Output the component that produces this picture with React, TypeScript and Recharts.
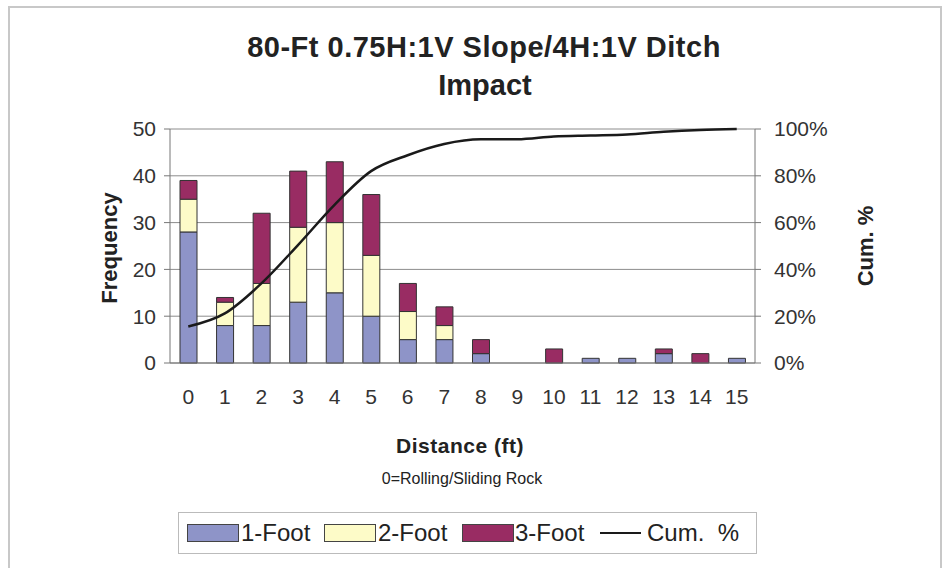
import React from 'react';
import {
	Bar,
	CartesianGrid,
	ComposedChart,
	Line,
	XAxis,
	YAxis,
} from 'recharts';

// distance from slope toe, ft
const distances = ['0', '1', '2', '3', '4', '5', '6', '7', '8', '9', '10', '11', '12', '13', '14', '15'];

// frequency per rock size
const oneFoot = [28, 8, 8, 13, 15, 10, 5, 5, 2, 0, 0, 1, 1, 2, 0, 1];
const twoFoot = [7, 5, 9, 16, 15, 13, 6, 3, 0, 0, 0, 0, 0, 0, 0, 0];
const threeFoot = [4, 1, 15, 12, 13, 13, 6, 4, 3, 0, 3, 0, 0, 1, 2, 0];

// cumulative percent
const cumPct = [15.6, 21.2, 34, 50.4, 67.6, 82, 88.8, 93.6, 95.6, 95.6, 96.8, 97.2, 97.6, 98.8, 99.6, 100];

const freqTicks = [0, 10, 20, 30, 40, 50];
const pctTicks = [0, 20, 40, 60, 80, 100];

const data = distances.map((d, i) => ({
	label: d,
	one: oneFoot[i],
	two: twoFoot[i],
	three: threeFoot[i],
	cum: cumPct[i],
}));

const FONT = '"Liberation Sans", Arial, sans-serif';
const BLUE = '#8e94c8';
const YELLOW = '#fdfbc8';
const RED = '#992c63';

const tickStyle = { fill: '#333', fontSize: 21, fontFamily: FONT };

const abs = (left: number, top: number): React.CSSProperties => ({
	position: 'absolute',
	left,
	top,
	transform: 'translate(-50%, -50%)',
	whiteSpace: 'nowrap',
	fontFamily: FONT,
	color: '#222',
});

const swatch = (left: number, color: string): React.CSSProperties => ({
	position: 'absolute',
	left,
	top: 11,
	width: 50,
	height: 16,
	background: color,
	border: '1px solid #444',
});

const legendText = (left: number): React.CSSProperties => ({
	position: 'absolute',
	left,
	top: 6,
	lineHeight: '28px',
});

export default function App() {
	return (
		<div
			style={{
				position: 'absolute',
				left: 0,
				top: 0,
				width: 943,
				height: 568,
				overflow: 'hidden',
				background: '#fff',
			}}
		>
			{/* chart area border */}
			<div
				style={{
					position: 'absolute',
					left: 8,
					top: 6,
					width: 930,
					height: 600,
					border: '2px solid #c8c8c8',
				}}
			/>

			<ComposedChart
				width={943}
				height={568}
				data={data}
				margin={{ top: 129, right: 128, bottom: 165, left: 110 }}
				barSize={17}
				style={{ position: 'absolute', left: 0, top: 0 }}
			>
				<CartesianGrid vertical={false} stroke='#8c8c8c' yAxisId='freq' />
				<XAxis
					dataKey='label'
					height={40}
					tickLine={false}
					tickSize={6}
					tickMargin={20}
					axisLine={{ stroke: '#777' }}
					tick={tickStyle}
					interval={0}
				/>
				<YAxis
					yAxisId='freq'
					width={60}
					domain={[0, 50]}
					ticks={freqTicks}
					tickSize={6}
					tickMargin={8}
					axisLine={{ stroke: '#777' }}
					tickLine={{ stroke: '#777' }}
					tick={tickStyle}
				/>
				<YAxis
					yAxisId='pct'
					orientation='right'
					width={60}
					domain={[0, 100]}
					ticks={pctTicks}
					tickFormatter={(v) => `${v}%`}
					tickSize={6}
					tickMargin={13}
					axisLine={{ stroke: '#777' }}
					tickLine={{ stroke: '#777' }}
					tick={{ ...tickStyle, textAnchor: 'start' }}
				/>
				<Bar yAxisId='freq' dataKey='one' stackId='a' fill={BLUE} stroke='#333' strokeWidth={1} isAnimationActive={false} />
				<Bar yAxisId='freq' dataKey='two' stackId='a' fill={YELLOW} stroke='#333' strokeWidth={1} isAnimationActive={false} />
				<Bar yAxisId='freq' dataKey='three' stackId='a' fill={RED} stroke='#333' strokeWidth={1} isAnimationActive={false} />
				<Line
					yAxisId='pct'
					dataKey='cum'
					type='monotone'
					stroke='#1a1a1a'
					strokeWidth={2.5}
					dot={false}
					activeDot={false}
					isAnimationActive={false}
				/>
			</ComposedChart>

			{/* titles */}
			<div style={{ ...abs(484, 47), fontSize: 29, fontWeight: 'bold', letterSpacing: 0.5 }}>
				80-Ft 0.75H:1V Slope/4H:1V Ditch
			</div>
			<div style={{ ...abs(485, 85), fontSize: 29, fontWeight: 'bold' }}>Impact</div>

			<div style={{ ...abs(110, 248), fontSize: 22, fontWeight: 'bold', transform: 'translate(-50%, -50%) rotate(-90deg)' }}>
				Frequency
			</div>
			<div style={{ ...abs(866, 246), fontSize: 22, fontWeight: 'bold', transform: 'translate(-50%, -50%) rotate(-90deg)' }}>
				Cum. %
			</div>

			<div style={{ ...abs(460, 446), fontSize: 21, fontWeight: 'bold', letterSpacing: 0.5 }}>Distance (ft)</div>
			<div style={{ ...abs(462, 479), fontSize: 16 }}>0=Rolling/Sliding Rock</div>

			{/* legend */}
			<div
				style={{
					position: 'absolute',
					left: 178,
					top: 512,
					width: 579,
					height: 42,
					border: '1px solid #bbb',
					boxSizing: 'border-box',
					fontFamily: FONT,
					fontSize: 24,
					color: '#222',
					whiteSpace: 'nowrap',
				}}
			>
				<span style={swatch(8, BLUE)} />
				<span style={legendText(62)}>1-Foot</span>
				<span style={swatch(145, YELLOW)} />
				<span style={legendText(199)}>2-Foot</span>
				<span style={swatch(283, RED)} />
				<span style={legendText(336)}>3-Foot</span>
				<span
					style={{
						position: 'absolute',
						left: 421,
						top: 19,
						width: 41,
						height: 2,
						background: '#1a1a1a',
					}}
				/>
				<span style={legendText(468)}>Cum.&nbsp;&nbsp;%</span>
			</div>
		</div>
	);
}
